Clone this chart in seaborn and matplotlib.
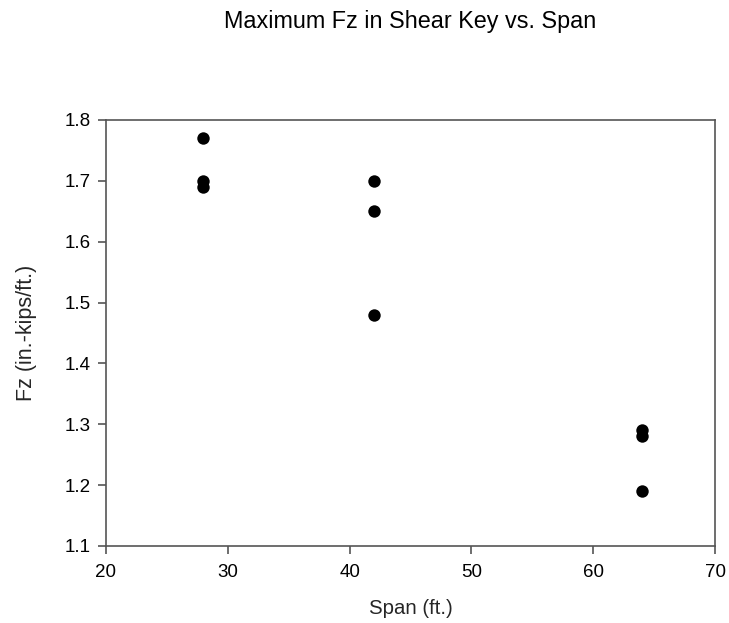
import matplotlib
matplotlib.use("Agg")
import matplotlib.pyplot as plt
import seaborn as sns
import pandas as pd

# values
span = [28, 28, 28, 42, 42, 42, 64, 64, 64]
fz = [1.77, 1.70, 1.69, 1.70, 1.65, 1.48, 1.29, 1.28, 1.19]
x_ticks = [20, 30, 40, 50, 60, 70]
y_ticks = [1.1, 1.2, 1.3, 1.4, 1.5, 1.6, 1.7, 1.8]

df = pd.DataFrame({"Span (ft.)": span, "Fz (in.-kips/ft.)": fz})

sns.set_style("ticks")
plt.rcParams['font.family'] = ['Liberation Sans', 'DejaVu Sans']

fig = plt.figure(figsize=(7.29, 6.23), dpi=100)
ax = fig.add_axes([0.1454, 0.1236, 0.8354, 0.6838])

sns.scatterplot(data=df, x="Span (ft.)", y="Fz (in.-kips/ft.)", ax=ax,
                color="black", s=80, edgecolor="black", linewidth=0)

ax.set_xlim(20, 70)
ax.set_ylim(1.1, 1.8)
ax.set_xticks(x_ticks)
ax.set_yticks(y_ticks)
ax.set_yticklabels([f"{v:.1f}" for v in y_ticks])

for sp in ax.spines.values():
    sp.set_color("#555555")
    sp.set_linewidth(1.2)
ax.tick_params(direction="out", length=6, width=1.2, color="#555555",
               labelsize=13.5, labelcolor="black")
ax.tick_params(axis="x", pad=7)
ax.tick_params(axis="y", pad=5)

ax.set_xlabel("Span (ft.)", fontsize=14.7, labelpad=13)
ax.set_ylabel("Fz (in.-kips/ft.)", fontsize=15.5, labelpad=20)
ax.set_title("Maximum Fz in Shear Key vs. Span", fontsize=16.8, pad=66,
             color="black")

plt.savefig("out.png", dpi=100)
